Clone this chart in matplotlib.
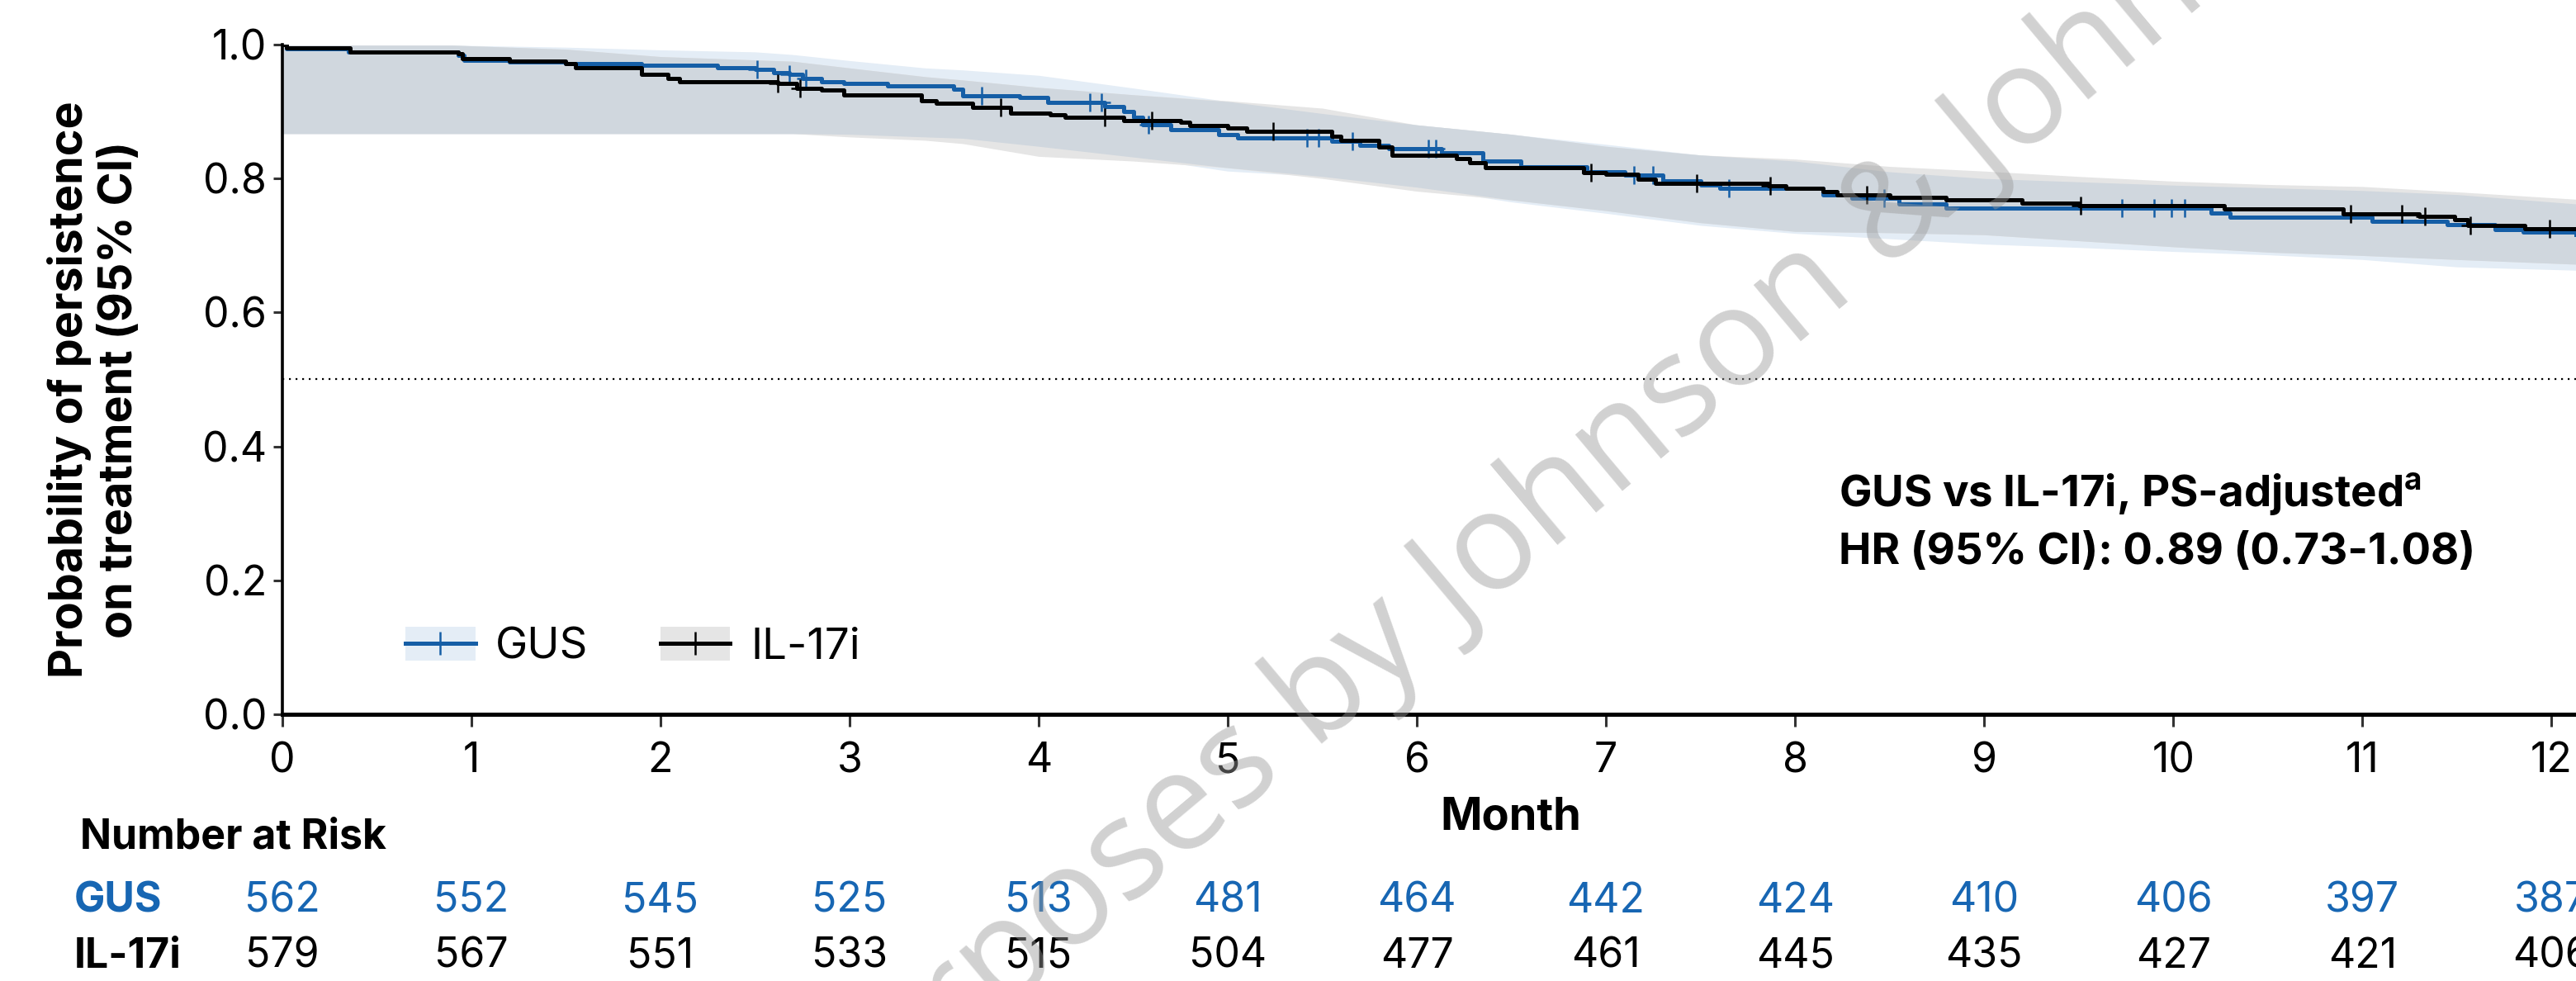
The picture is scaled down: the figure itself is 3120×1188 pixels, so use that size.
import numpy as np
import matplotlib.pyplot as plt
from matplotlib.patches import Patch
from matplotlib.lines import Line2D
from matplotlib.transforms import blended_transform_factory

plt.rcParams['font.family'] = ['Inter', 'DejaVu Sans']
plt.rcParams['mathtext.fontset'] = 'custom'
plt.rcParams['mathtext.bf'] = 'Inter:bold'
plt.rcParams['mathtext.rm'] = 'Inter'

# Kaplan-Meier step curves (month, persistence)
gus_t = [0, 0.02, 0.35, 0.93, 0.96, 1.2, 1.5, 1.9, 2.3, 2.5, 2.6, 2.68, 2.75, 2.85, 2.97,
         3.2, 3.55, 3.6, 3.9, 4.05, 4.35, 4.45, 4.5, 4.55, 4.7, 4.95, 5.05, 5.55, 5.7,
         5.85, 6.13, 6.35, 6.55, 6.9, 7.1, 7.3, 7.5, 7.6, 8.15, 8.3, 8.55, 8.8, 10.2,
         10.3, 11.05, 11.45, 11.7, 11.85, 12.13]
gus_s = [1.0, 0.994, 0.989, 0.984, 0.977, 0.974, 0.971, 0.969, 0.966, 0.963, 0.958, 0.955,
         0.949, 0.945, 0.942, 0.938, 0.933, 0.924, 0.921, 0.913, 0.907, 0.900, 0.892, 0.880,
         0.873, 0.866, 0.861, 0.856, 0.850, 0.845, 0.838, 0.826, 0.818, 0.810, 0.805, 0.797,
         0.790, 0.785, 0.776, 0.770, 0.762, 0.756, 0.748, 0.742, 0.736, 0.731, 0.724, 0.720,
         0.716]
gus_cens = [2.51, 2.68, 2.77, 3.70, 4.27, 4.33, 4.58, 5.42, 5.48, 5.66, 6.06, 6.10, 7.15,
            7.25, 7.65, 8.47, 9.73, 9.90, 9.99, 10.06]

il17_t = [0, 0.02, 0.36, 0.93, 0.95, 1.2, 1.5, 1.55, 1.9, 2.04, 2.1, 2.62, 2.72, 2.85, 2.97,
          3.38, 3.46, 3.65, 3.85, 4.06, 4.14, 4.45, 4.75, 4.8, 5.0, 5.1, 5.55, 5.6, 5.8, 5.87,
          6.21, 6.28, 6.36, 6.88, 7.0, 7.17, 7.26, 7.86, 7.95, 8.15, 8.22, 8.5, 8.8, 9.2, 9.5,
          10.27, 10.9, 11.3, 11.49, 11.56, 11.86, 12.13]
il17_s = [1.0, 0.995, 0.989, 0.986, 0.979, 0.975, 0.971, 0.966, 0.955, 0.949, 0.944, 0.942,
          0.935, 0.932, 0.925, 0.916, 0.912, 0.906, 0.898, 0.895, 0.891, 0.886, 0.884, 0.879,
          0.875, 0.870, 0.863, 0.857, 0.847, 0.835, 0.830, 0.823, 0.816, 0.809, 0.806, 0.799,
          0.793, 0.789, 0.785, 0.781, 0.776, 0.772, 0.768, 0.763, 0.760, 0.755, 0.747, 0.744,
          0.739, 0.730, 0.725, 0.725]
il17_cens = [2.62, 2.74, 3.80, 4.35, 4.60, 5.24, 6.92, 7.48, 7.87, 8.38, 9.51, 10.94, 11.21,
             11.33, 11.57, 11.99]

# 95% CI bands, read at common months
ci_t = [0, 0.9, 1.5, 2.0, 2.5, 2.7, 3.0, 3.4, 3.6, 4.0, 4.5, 5.0, 5.5, 6.0, 6.5, 7.0, 7.5,
        8.0, 8.5, 9.0, 9.5, 10.0, 10.5, 11.0, 11.5, 12.13]
gus_hi = [0.999, 0.999, 0.996, 0.992, 0.989, 0.985, 0.976, 0.965, 0.962, 0.954, 0.935, 0.915,
          0.897, 0.880, 0.866, 0.851, 0.835, 0.826, 0.810, 0.800, 0.795, 0.790, 0.786, 0.782,
          0.776, 0.762]
gus_lo = [0.867, 0.867, 0.867, 0.867, 0.867, 0.867, 0.866, 0.862, 0.860, 0.848, 0.832, 0.811,
          0.803, 0.787, 0.765, 0.748, 0.730, 0.718, 0.710, 0.702, 0.697, 0.691, 0.686, 0.679,
          0.668, 0.663]
il17_hi = [0.999, 0.999, 0.993, 0.982, 0.977, 0.975, 0.965, 0.952, 0.947, 0.936, 0.925, 0.916,
           0.905, 0.880, 0.866, 0.848, 0.835, 0.829, 0.818, 0.811, 0.803, 0.796, 0.791, 0.788,
           0.780, 0.769]
il17_lo = [0.867, 0.867, 0.867, 0.867, 0.867, 0.867, 0.862, 0.857, 0.852, 0.833, 0.826, 0.816,
           0.800, 0.781, 0.768, 0.752, 0.734, 0.721, 0.719, 0.716, 0.707, 0.698, 0.690, 0.685,
           0.679, 0.672]

# number at risk
risk_months = list(range(13))
gus_risk = [562, 552, 545, 525, 513, 481, 464, 442, 424, 410, 406, 397, 387]
il17_risk = [579, 567, 551, 533, 515, 504, 477, 461, 445, 435, 427, 421, 406]

blue = '#155ea6'
blue_txt = '#1766b3'
gus_band = '#e4edf6'
il17_band = '#e5e5e5'
both_band = '#d0d7de'


def step_at(t, s, x):
    i = np.searchsorted(t, x, side='right') - 1
    return np.asarray(s)[i]


fig = plt.figure(figsize=(15.6, 5.94), dpi=200)
ax = fig.add_axes([0.1096, 0.2719, 0.8904, 0.6827])

# CI bands: each group, then where they overlap
ax.fill_between(ci_t, gus_lo, gus_hi, color=gus_band, lw=0, zorder=1)
ax.fill_between(ci_t, il17_lo, il17_hi, color=il17_band, lw=0, zorder=1)
ax.fill_between(ci_t, np.maximum(gus_lo, il17_lo), np.minimum(gus_hi, il17_hi),
                where=np.maximum(gus_lo, il17_lo) < np.minimum(gus_hi, il17_hi),
                color=both_band, lw=0, zorder=2)

ax.axhline(0.5, color='black', lw=0.8, ls=(0, (1, 2.6)), zorder=2)

ax.step(gus_t, gus_s, where='post', color=blue, lw=1.8, zorder=4)
ax.step(il17_t, il17_s, where='post', color='black', lw=1.8, zorder=5)
ax.plot(gus_cens, step_at(gus_t, gus_s, gus_cens), ls='none', marker='+', ms=8,
        mew=0.9, color=blue, zorder=4)
ax.plot(il17_cens, step_at(il17_t, il17_s, il17_cens), ls='none', marker='+', ms=8,
        mew=0.9, color='black', zorder=5)

ax.set_xlim(0, 12.13)
ax.set_ylim(0, 1.0)
ax.set_xticks(range(13))
ax.set_yticks([0, 0.2, 0.4, 0.6, 0.8, 1.0])
ax.set_yticklabels(['0.0', '0.2', '0.4', '0.6', '0.8', '1.0'])
ax.spines['top'].set_visible(False)
ax.spines['right'].set_visible(False)
ax.spines['left'].set_linewidth(1.3)
ax.spines['bottom'].set_linewidth(1.8)
ax.tick_params(axis='y', length=4, width=1.1, color='#333333', pad=2.8, labelsize=18)
ax.tick_params(axis='x', length=5.4, width=1.1, color='#333333', pad=6.5, labelsize=18)

# legend: band patch with the step line on top
h_gus = (Patch(facecolor=gus_band, lw=0),
         Line2D([], [], color=blue, lw=1.8, marker='+', ms=10, mew=0.9))
h_il17 = (Patch(facecolor=il17_band, lw=0),
          Line2D([], [], color='black', lw=1.8, marker='+', ms=10, mew=0.9))
fig.legend([h_gus, h_il17], ['GUS', 'IL-17i'], loc='center left',
           bbox_to_anchor=(0.1574, 0.340), ncol=2, frameon=False, fontsize=19,
           borderpad=0, borderaxespad=0, handlelength=1.6, handleheight=0.8,
           handletextpad=0.47, columnspacing=1.65)

fig.text(0.7138, 0.484, r'GUS vs IL-17i, PS-adjusted$^{\mathbf{a}}$', fontsize=19,
         fontweight='bold', ha='left', va='baseline')
fig.text(0.7138, 0.425, 'HR (95% CI): 0.89 (0.73-1.08)', fontsize=19,
         fontweight='bold', ha='left', va='baseline')

fig.text(0.0365, 0.6027, 'Probability of persistence\non treatment (95% CI)', rotation=90,
         fontsize=20, fontweight='bold', ha='center', va='center', multialignment='center',
         linespacing=1.2)
fig.text(0.5865, 0.1667, 'Month', fontsize=19.5, fontweight='bold', ha='center', va='center')

# number-at-risk table
fig.text(0.031, 0.1347, 'Number at Risk', fontsize=18, fontweight='bold', va='baseline')
fig.text(0.0288, 0.0699, 'GUS', fontsize=18, fontweight='bold', color=blue_txt, va='baseline')
fig.text(0.0288, 0.0135, 'IL-17i', fontsize=18, fontweight='bold', va='baseline')
trans = blended_transform_factory(ax.transData, fig.transFigure)
for m, n in zip(risk_months, gus_risk):
    ax.text(m, 0.0699, str(n), transform=trans, ha='center', va='baseline', fontsize=18,
            color=blue_txt, clip_on=False)
for m, n in zip(risk_months, il17_risk):
    ax.text(m, 0.0135, str(n), transform=trans, ha='center', va='baseline', fontsize=18,
            color='black', clip_on=False)

# watermark
fig.text(0.3205, -0.1818, 'purposes by Johnson & Johnson', rotation=40,
         rotation_mode='anchor', ha='left', va='baseline', fontsize=60,
         family='Open Sans', color='#9a9a9a', alpha=0.45, zorder=10)

fig.savefig('out.png', dpi=200)
